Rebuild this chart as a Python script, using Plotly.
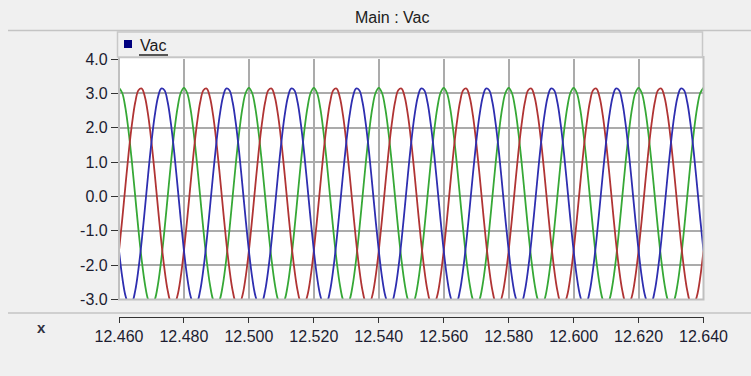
import plotly.graph_objects as go

# Sample times: 1 ms step from 12.460 s to 12.640 s
T_START = 12.460
T_STEP = 0.001
N_SAMPLES = 181

# Three-phase Vac samples (one row per 20 ms cycle, plus the closing sample)
vac_a = [
    3.16, 3.01, 2.56, 1.86, 0.98, 0.00, -0.98, -1.86, -2.56, -3.01, -3.16, -3.01, -2.56, -1.86, -0.98, 0.00, 0.98, 1.86, 2.56, 3.01,
    3.16, 3.01, 2.56, 1.86, 0.98, 0.00, -0.98, -1.86, -2.56, -3.01, -3.16, -3.01, -2.56, -1.86, -0.98, 0.00, 0.98, 1.86, 2.56, 3.01,
    3.16, 3.01, 2.56, 1.86, 0.98, 0.00, -0.98, -1.86, -2.56, -3.01, -3.16, -3.01, -2.56, -1.86, -0.98, 0.00, 0.98, 1.86, 2.56, 3.01,
    3.16, 3.01, 2.56, 1.86, 0.98, 0.00, -0.98, -1.86, -2.56, -3.01, -3.16, -3.01, -2.56, -1.86, -0.98, 0.00, 0.98, 1.86, 2.56, 3.01,
    3.16, 3.01, 2.56, 1.86, 0.98, 0.00, -0.98, -1.86, -2.56, -3.01, -3.16, -3.01, -2.56, -1.86, -0.98, 0.00, 0.98, 1.86, 2.56, 3.01,
    3.16, 3.01, 2.56, 1.86, 0.98, 0.00, -0.98, -1.86, -2.56, -3.01, -3.16, -3.01, -2.56, -1.86, -0.98, 0.00, 0.98, 1.86, 2.56, 3.01,
    3.16, 3.01, 2.56, 1.86, 0.98, 0.00, -0.98, -1.86, -2.56, -3.01, -3.16, -3.01, -2.56, -1.86, -0.98, 0.00, 0.98, 1.86, 2.56, 3.01,
    3.16, 3.01, 2.56, 1.86, 0.98, 0.00, -0.98, -1.86, -2.56, -3.01, -3.16, -3.01, -2.56, -1.86, -0.98, 0.00, 0.98, 1.86, 2.56, 3.01,
    3.16, 3.01, 2.56, 1.86, 0.98, 0.00, -0.98, -1.86, -2.56, -3.01, -3.16, -3.01, -2.56, -1.86, -0.98, 0.00, 0.98, 1.86, 2.56, 3.01,
    3.16,
]
vac_b = [
    -1.58, -0.66, 0.33, 1.29, 2.11, 2.74, 3.09, 3.14, 2.89, 2.35, 1.58, 0.66, -0.33, -1.29, -2.11, -2.74, -3.09, -3.14, -2.89, -2.35,
    -1.58, -0.66, 0.33, 1.29, 2.11, 2.74, 3.09, 3.14, 2.89, 2.35, 1.58, 0.66, -0.33, -1.29, -2.11, -2.74, -3.09, -3.14, -2.89, -2.35,
    -1.58, -0.66, 0.33, 1.29, 2.11, 2.74, 3.09, 3.14, 2.89, 2.35, 1.58, 0.66, -0.33, -1.29, -2.11, -2.74, -3.09, -3.14, -2.89, -2.35,
    -1.58, -0.66, 0.33, 1.29, 2.11, 2.74, 3.09, 3.14, 2.89, 2.35, 1.58, 0.66, -0.33, -1.29, -2.11, -2.74, -3.09, -3.14, -2.89, -2.35,
    -1.58, -0.66, 0.33, 1.29, 2.11, 2.74, 3.09, 3.14, 2.89, 2.35, 1.58, 0.66, -0.33, -1.29, -2.11, -2.74, -3.09, -3.14, -2.89, -2.35,
    -1.58, -0.66, 0.33, 1.29, 2.11, 2.74, 3.09, 3.14, 2.89, 2.35, 1.58, 0.66, -0.33, -1.29, -2.11, -2.74, -3.09, -3.14, -2.89, -2.35,
    -1.58, -0.66, 0.33, 1.29, 2.11, 2.74, 3.09, 3.14, 2.89, 2.35, 1.58, 0.66, -0.33, -1.29, -2.11, -2.74, -3.09, -3.14, -2.89, -2.35,
    -1.58, -0.66, 0.33, 1.29, 2.11, 2.74, 3.09, 3.14, 2.89, 2.35, 1.58, 0.66, -0.33, -1.29, -2.11, -2.74, -3.09, -3.14, -2.89, -2.35,
    -1.58, -0.66, 0.33, 1.29, 2.11, 2.74, 3.09, 3.14, 2.89, 2.35, 1.58, 0.66, -0.33, -1.29, -2.11, -2.74, -3.09, -3.14, -2.89, -2.35,
    -1.58,
]
vac_c = [
    -1.58, -2.35, -2.89, -3.14, -3.09, -2.74, -2.11, -1.29, -0.33, 0.66, 1.58, 2.35, 2.89, 3.14, 3.09, 2.74, 2.11, 1.29, 0.33, -0.66,
    -1.58, -2.35, -2.89, -3.14, -3.09, -2.74, -2.11, -1.29, -0.33, 0.66, 1.58, 2.35, 2.89, 3.14, 3.09, 2.74, 2.11, 1.29, 0.33, -0.66,
    -1.58, -2.35, -2.89, -3.14, -3.09, -2.74, -2.11, -1.29, -0.33, 0.66, 1.58, 2.35, 2.89, 3.14, 3.09, 2.74, 2.11, 1.29, 0.33, -0.66,
    -1.58, -2.35, -2.89, -3.14, -3.09, -2.74, -2.11, -1.29, -0.33, 0.66, 1.58, 2.35, 2.89, 3.14, 3.09, 2.74, 2.11, 1.29, 0.33, -0.66,
    -1.58, -2.35, -2.89, -3.14, -3.09, -2.74, -2.11, -1.29, -0.33, 0.66, 1.58, 2.35, 2.89, 3.14, 3.09, 2.74, 2.11, 1.29, 0.33, -0.66,
    -1.58, -2.35, -2.89, -3.14, -3.09, -2.74, -2.11, -1.29, -0.33, 0.66, 1.58, 2.35, 2.89, 3.14, 3.09, 2.74, 2.11, 1.29, 0.33, -0.66,
    -1.58, -2.35, -2.89, -3.14, -3.09, -2.74, -2.11, -1.29, -0.33, 0.66, 1.58, 2.35, 2.89, 3.14, 3.09, 2.74, 2.11, 1.29, 0.33, -0.66,
    -1.58, -2.35, -2.89, -3.14, -3.09, -2.74, -2.11, -1.29, -0.33, 0.66, 1.58, 2.35, 2.89, 3.14, 3.09, 2.74, 2.11, 1.29, 0.33, -0.66,
    -1.58, -2.35, -2.89, -3.14, -3.09, -2.74, -2.11, -1.29, -0.33, 0.66, 1.58, 2.35, 2.89, 3.14, 3.09, 2.74, 2.11, 1.29, 0.33, -0.66,
    -1.58,
]

x_ticks = [12.46, 12.48, 12.50, 12.52, 12.54, 12.56, 12.58, 12.60, 12.62, 12.64]
x_labels = ["12.460", "12.480", "12.500", "12.520", "12.540", "12.560", "12.580", "12.600", "12.620", "12.640"]
y_ticks = [-3, -2, -1, 0, 1, 2, 3, 4]
y_labels = ["-3.0", "-2.0", "-1.0", "0.0", "1.0", "2.0", "3.0", "4.0"]

times = [T_START + k * T_STEP for k in range(N_SAMPLES)]

W, H = 751, 376
FONT = "Liberation Sans, Arial, sans-serif"
TXT = "#1c1c30"
GRID = "#ababab"


def px(x):
    return x / W


def py(y):
    return 1 - y / H


fig = go.Figure()
for vals, col in [(vac_a, "#36a836"), (vac_b, "#b03434"), (vac_c, "#2e2eb0")]:
    fig.add_trace(go.Scatter(x=times, y=vals, mode="lines", line=dict(color=col, width=1.8, shape="spline"),
                             showlegend=False, hoverinfo="skip"))
# carrier for the separate time axis strip
fig.add_trace(go.Scatter(x=[x_ticks[0], x_ticks[-1]], y=[None, None], xaxis="x2", yaxis="y",
                         mode="lines", showlegend=False, hoverinfo="skip"))

shapes = [
    # plot frame (grey right/bottom edges)
    dict(type="rect", xref="paper", yref="paper", x0=px(119), x1=px(703.5), y0=py(299.5), y1=py(57),
         line=dict(color="#c0c0c0", width=2), layer="above"),
    # legend panel
    dict(type="rect", xref="paper", yref="paper", x0=px(117.5), x1=px(702.5), y0=py(57), y1=py(32),
         line=dict(color="#c8c8c8", width=1.5), fillcolor="#f0f0f0", layer="above"),
    # legend swatch
    dict(type="rect", xref="paper", yref="paper", x0=px(124), x1=px(132), y0=py(48), y1=py(40),
         line=dict(width=0), fillcolor="#00007f", layer="above"),
    # legend underline
    dict(type="line", xref="paper", yref="paper", x0=px(139), x1=px(168), y0=py(55), y1=py(55),
         line=dict(color="#222222", width=1.5), layer="above"),
    # header separator
    dict(type="line", xref="paper", yref="paper", x0=px(8), x1=1, y0=py(30.5), y1=py(30.5),
         line=dict(color="#c4c4c4", width=1.5)),
    # footer separator
    dict(type="line", xref="paper", yref="paper", x0=px(8), x1=1, y0=py(313), y1=py(313),
         line=dict(color="#c4c4c4", width=1.5)),
]

annotations = [
    dict(text="Main : Vac", xref="paper", yref="paper", x=px(392), y=py(17), showarrow=False,
         font=dict(family=FONT, size=16, color="#202020"), xanchor="center", yanchor="middle"),
    dict(text="Vac", xref="paper", yref="paper", x=px(138), y=py(45.5), showarrow=False,
         font=dict(family=FONT, size=16, color="#1a1a1a"), xanchor="left", yanchor="middle"),
    dict(text="<b>x</b>", xref="paper", yref="paper", x=px(41), y=py(327), showarrow=False,
         font=dict(family=FONT, size=15, color="#303040"), xanchor="center", yanchor="middle"),
]

fig.update_layout(
    width=W, height=H,
    margin=dict(l=0, r=0, t=0, b=0, pad=0),
    paper_bgcolor="#f0f0f0",
    plot_bgcolor="white",
    showlegend=False,
    shapes=shapes,
    annotations=annotations,
    xaxis=dict(domain=[px(119), px(703.5)], range=[x_ticks[0], x_ticks[-1]], tickvals=x_ticks,
               showticklabels=False, ticks="", showgrid=True, gridcolor=GRID, gridwidth=1.8,
               zeroline=False, showline=False, automargin=False),
    xaxis2=dict(overlaying="x", anchor="free", position=py(317), side="bottom",
                range=[x_ticks[0], x_ticks[-1]], tickvals=x_ticks, ticktext=x_labels,
                ticks="outside", ticklen=5, tickcolor="#333333", showline=True, linecolor="#333333",
                linewidth=1.2, showgrid=False, zeroline=False, automargin=False,
                tickfont=dict(family=FONT, size=16, color=TXT)),
    yaxis=dict(domain=[py(299.5), py(59)], range=[-3, 4], tickvals=y_ticks, ticktext=y_labels,
               ticks="outside", ticklen=7, tickcolor="#333333", showline=True, linecolor="#333333",
               linewidth=1.2, showgrid=True, gridcolor=GRID, gridwidth=1.8, zeroline=False,
               automargin=False, tickfont=dict(family=FONT, size=16, color=TXT)),
)

fig.write_html("out.html")
